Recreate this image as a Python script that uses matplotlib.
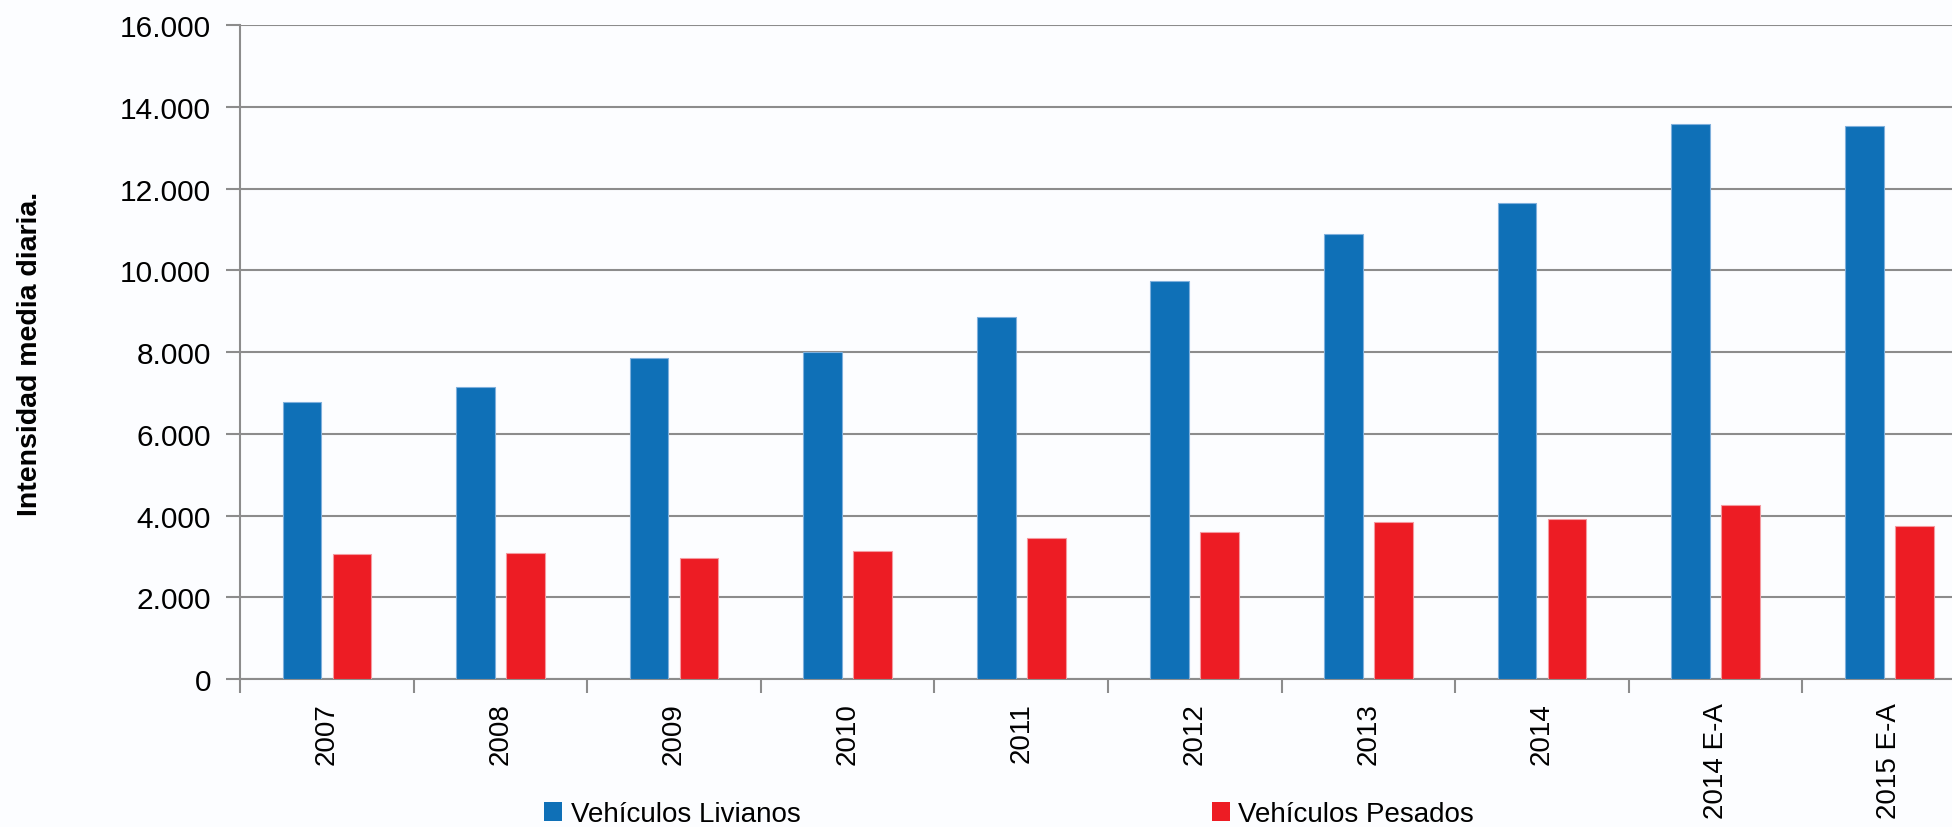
import matplotlib.pyplot as plt
import numpy as np
from matplotlib.ticker import FuncFormatter, FixedLocator
from matplotlib.patches import Patch

years = ['2007', '2008', '2009', '2010', '2011', '2012', '2013', '2014', '2014 E-A', '2015 E-A']
livianos = [6780, 7150, 7850, 7990, 8850, 9730, 10880, 11640, 13580, 13540]
pesados = [3060, 3090, 2950, 3140, 3460, 3590, 3830, 3920, 4260, 3740]

blue = '#0f70b7'
red = '#ed1c24'
grid_c = '#8c8c8c'
bg = '#fcfdff'
fam = ['Liberation Sans', 'DejaVu Sans']

fig = plt.figure(figsize=(19.52, 8.28), dpi=100, facecolor=bg)
ax = fig.add_axes([0.123, 0.1787, 0.8893, 0.7899], facecolor=bg)

x = np.arange(len(years))
w = 0.223
ax.bar(x - 0.144, livianos, w, color=blue, edgecolor='#7fb0dc', linewidth=0.8, zorder=3)
ax.bar(x + 0.144, pesados, w, color=red, edgecolor='#f49aa0', linewidth=0.8, zorder=3)

ax.set_xlim(-0.5, len(years) - 0.5)
ax.set_ylim(0, 16000)
ax.set_yticks(np.arange(0, 16001, 2000))
ax.yaxis.set_major_formatter(FuncFormatter(lambda v, p: f'{int(v):,}'.replace(',', '.')))
ax.yaxis.grid(True, color=grid_c, linewidth=1.5, zorder=0)
ax.set_axisbelow(True)

ax.set_xticks(x)
ax.set_xticklabels(years, rotation=90, va='top', ha='center')
ax.xaxis.set_minor_locator(FixedLocator(np.arange(-0.5, len(years), 1.0)))
ax.tick_params(axis='x', which='major', length=0, pad=16.5, labelsize=20)
ax.tick_params(axis='x', which='minor', length=10, width=1.5, color=grid_c, direction='out')
ax.tick_params(axis='y', length=10, width=1.5, color=grid_c, pad=11, labelsize=21.5)
for lab in ax.get_xticklabels() + ax.get_yticklabels():
    lab.set_family(fam)

for s in ['top', 'right']:
    ax.spines[s].set_visible(False)
for s in ['left', 'bottom']:
    ax.spines[s].set_color(grid_c)
    ax.spines[s].set_linewidth(1.5)

fig.text(0.0154, 0.572, 'Intensidad media diaria.', rotation=90, ha='center', va='center',
         fontsize=20.5, fontweight='bold', family=fam)

handles = [Patch(facecolor=blue, label='Vehículos Livianos'),
           Patch(facecolor=red, label='Vehículos Pesados')]
fig.legend(handles=handles, loc='center left', bbox_to_anchor=(0.2787, 0.0157), ncol=2,
           frameon=False, borderpad=0, borderaxespad=0, handlelength=0.66, handleheight=0.66,
           handletextpad=0.3, columnspacing=14.8,
           prop={'family': fam, 'size': 20})

fig.savefig('out.png', dpi=100, facecolor=bg)
